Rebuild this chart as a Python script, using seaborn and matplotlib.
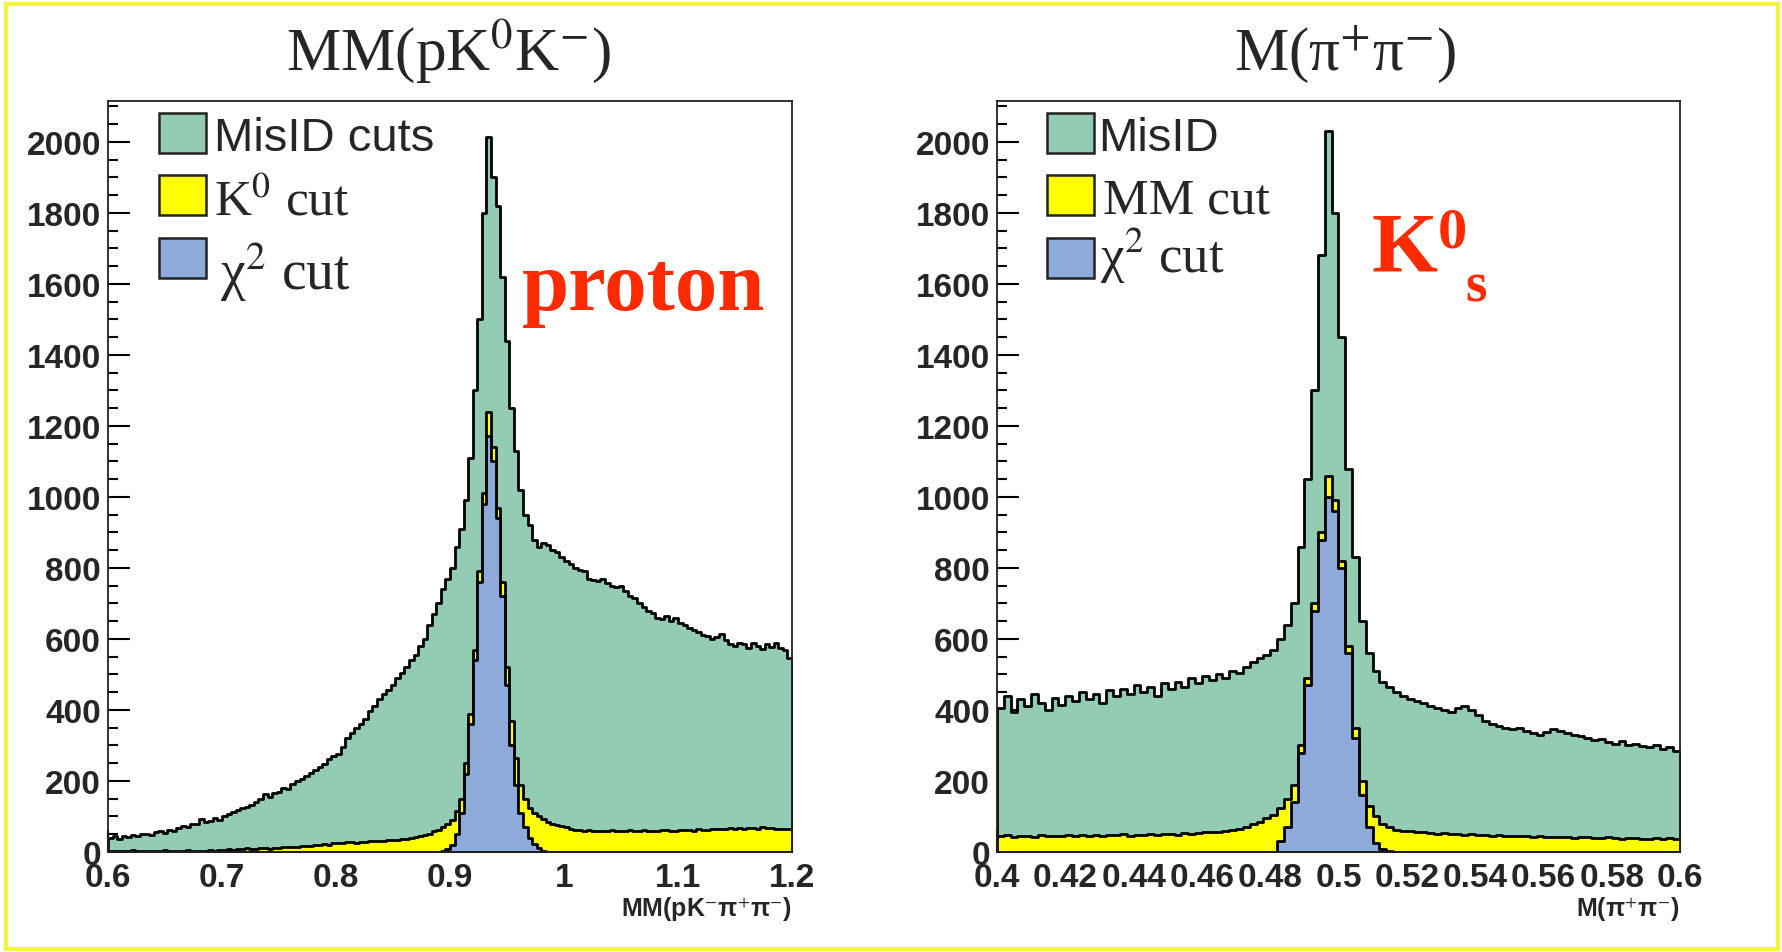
import numpy as np
import pandas as pd
import matplotlib
matplotlib.use("Agg")
import matplotlib.pyplot as plt
import seaborn as sns
from matplotlib.patches import Rectangle
from matplotlib.ticker import MultipleLocator

# ---------------- data ----------------
# Left panel: MM(pK0K-) , bins of 0.004 from 0.6 to 1.2
left_range = (0.6, 1.2)
left_bin_width = 0.004
left_misid = [
    40, 45, 38, 46, 42, 48, 44, 52, 50, 47, 55, 58, 54, 62, 60, 68, 72, 70, 80, 78,
    92, 84, 88, 95, 90, 102, 108, 112, 118, 125, 128, 132, 140, 150, 162, 155, 165, 170, 180, 178,
    192, 200, 205, 215, 222, 230, 240, 248, 262, 270, 275, 295, 320, 335, 350, 360, 375, 398, 410, 430,
    445, 455, 470, 490, 505, 520, 540, 555, 580, 600, 640, 670, 700, 740, 770, 800, 860, 910, 990, 1110,
    1300, 1500, 1800, 2014, 1900, 1820, 1620, 1440, 1250, 1130, 1020, 950, 920, 880, 860, 870, 865, 850, 845, 830,
    820, 810, 800, 795, 790, 770, 765, 762, 768, 758, 750, 745, 748, 735, 720, 715, 700, 690, 680, 672,
    660, 655, 665, 650, 660, 645, 640, 630, 625, 620, 612, 608, 600, 605, 615, 598, 585, 580, 590, 585,
    575, 588, 580, 572, 585, 578, 590, 575, 570, 545,
]
left_k0cut = [
    3, 2, 4, 3, 2, 5, 3, 4, 3, 2, 4, 3, 5, 4, 3, 2, 4, 5, 3, 4,
    4, 3, 5, 4, 6, 6, 8, 7, 9, 8, 10, 9, 8, 10, 11, 9, 12, 11, 13, 14,
    15, 14, 16, 18, 17, 19, 20, 22, 21, 24, 25, 26, 27, 28, 26, 29, 28, 30, 31, 30,
    32, 33, 34, 35, 36, 38, 40, 42, 45, 48, 52, 58, 62, 70, 78, 90, 115, 150, 250, 390,
    570, 790, 1010, 1239, 1140, 970, 760, 520, 370, 265, 190, 150, 125, 110, 100, 92, 85, 80, 76, 72,
    70, 65, 63, 62, 60, 61, 59, 60, 58, 60, 61, 59, 60, 58, 62, 60, 59, 61, 60, 58,
    60, 62, 61, 60, 59, 63, 62, 61, 60, 64, 62, 63, 65, 64, 66, 65, 67, 66, 68, 65,
    67, 68, 66, 69, 67, 68, 66, 65, 64, 66,
]
left_chi2cut = [
    0, 0, 0, 0, 0, 0, 0, 0, 0, 0, 0, 0, 0, 0, 0, 0, 0, 0, 0, 0,
    0, 0, 0, 0, 0, 0, 0, 0, 0, 0, 0, 0, 0, 0, 0, 0, 0, 0, 0, 0,
    0, 0, 0, 0, 0, 0, 0, 0, 0, 0, 0, 0, 0, 0, 0, 0, 0, 0, 0, 0,
    0, 0, 0, 0, 0, 0, 0, 0, 0, 0, 0, 0, 0, 2, 8, 20, 50, 110, 220, 360,
    540, 760, 980, 1172, 1100, 940, 720, 470, 300, 190, 110, 70, 40, 22, 10, 4, 1, 0, 0, 0,
    0, 0, 0, 0, 0, 0, 0, 0, 0, 0, 0, 0, 0, 0, 0, 0, 0, 0, 0, 0,
    0, 0, 0, 0, 0, 0, 0, 0, 0, 0, 0, 0, 0, 0, 0, 0, 0, 0, 0, 0,
    0, 0, 0, 0, 0, 0, 0, 0, 0, 0,
]

# Right panel: M(pi+pi-), bins of 0.002 from 0.4 to 0.6
right_range = (0.4, 0.6)
right_bin_width = 0.002
right_misid = [
    405, 440, 395, 430, 410, 445, 420, 400, 435, 415, 440, 425, 450, 430, 445, 420, 455, 440, 460, 445,
    470, 450, 465, 440, 475, 460, 480, 465, 490, 475, 495, 485, 500, 490, 510, 505, 520, 535, 545, 555,
    570, 600, 640, 700, 860, 1050, 1300, 1680, 2030, 1800, 1450, 1080, 830, 650, 560, 510, 480, 465, 450, 440,
    430, 425, 420, 410, 405, 400, 395, 405, 410, 400, 385, 370, 360, 355, 350, 345, 348, 340, 335, 330,
    338, 345, 340, 335, 330, 328, 322, 315, 318, 310, 305, 312, 300, 305, 298, 295, 300, 290, 295, 285,
]
right_mmcut = [
    44, 48, 42, 46, 45, 43, 47, 44, 46, 45, 48, 44, 47, 46, 49, 45, 48, 47, 50, 46,
    49, 48, 51, 47, 50, 52, 49, 53, 51, 54, 55, 57, 56, 60, 62, 65, 70, 78, 85, 95,
    105, 125, 150, 190, 300, 490, 700, 900, 1059, 990, 820, 580, 350, 200, 130, 100, 80, 70, 63, 60,
    58, 56, 55, 54, 52, 53, 51, 50, 49, 50, 48, 47, 46, 47, 45, 46, 44, 45, 43, 44,
    42, 43, 41, 42, 40, 41, 42, 40, 39, 41, 40, 38, 39, 40, 38, 37, 39, 38, 40, 38,
]
right_chi2cut = [
    0, 0, 0, 0, 0, 0, 0, 0, 0, 0, 0, 0, 0, 0, 0, 0, 0, 0, 0, 0,
    0, 0, 0, 0, 0, 0, 0, 0, 0, 0, 0, 0, 0, 0, 0, 0, 0, 0, 0, 0,
    0, 30, 70, 140, 280, 470, 680, 880, 1000, 960, 800, 560, 320, 160, 70, 25, 8, 2, 0, 0,
    0, 0, 0, 0, 0, 0, 0, 0, 0, 0, 0, 0, 0, 0, 0, 0, 0, 0, 0, 0,
    0, 0, 0, 0, 0, 0, 0, 0, 0, 0, 0, 0, 0, 0, 0, 0, 0, 0, 0, 0,
]

left_xticks = [0.6, 0.7, 0.8, 0.9, 1.0, 1.1, 1.2]
left_xticklabels = ["0.6", "0.7", "0.8", "0.9", "1", "1.1", "1.2"]
right_xticks = [0.40, 0.42, 0.44, 0.46, 0.48, 0.50, 0.52, 0.54, 0.56, 0.58, 0.60]
right_xticklabels = ["0.4", "0.42", "0.44", "0.46", "0.48", "0.5", "0.52", "0.54",
                     "0.56", "0.58", "0.6"]
yticks = [0, 200, 400, 600, 800, 1000, 1200, 1400, 1600, 1800, 2000]
yticklabels = ["0", "200", "400", "600", "800", "1000", "1200", "1400", "1600", "1800", "2000"]

left_title = r"MM(pK$^{0}$K$^{-}$)"
right_title = r"M(π$^{+}$π$^{-}$)"
left_xlabel = r"MM(pK$^{-}$π$^{+}$π$^{-}$)"
right_xlabel = r"M(π$^{+}$π$^{-}$)"
left_legend = ["MisID cuts", r"K$^{0}$ cut", r"χ$^{2}$ cut"]
right_legend = ["MisID", "MM cut", r"χ$^{2}$ cut"]

# ---------------- style ----------------
sns.set_style("ticks")
plt.rcParams["font.family"] = ["Liberation Sans", "DejaVu Sans"]
plt.rcParams["mathtext.fontset"] = "stix"

C_GREEN = "#94cbb3"
C_YELLOW = "#ffff00"
C_BLUE = "#8eaadb"
C_RED = "#ff2a00"
SANS_N = ["Liberation Sans Narrow", "Liberation Sans", "DejaVu Sans"]
SERIF = ["Liberation Serif", "DejaVu Serif"]

W, H = 1783, 953
fig = plt.figure(figsize=(W / 100, H / 100), dpi=100)
fig.patch.set_facecolor("white")


def fx(px):
    return px / W


def fy(py):
    return 1 - py / H


def hist_frame(values, lo, width):
    n = len(values)
    edges = lo + width * np.arange(n + 1)
    centers = edges[:-1] + width / 2
    return [float(e) for e in edges], pd.DataFrame({"x": centers, "w": values})


def panel(ax_px, rng, bw, series, xticks, xticklabels, xminor, xlabel):
    x0, x1, ytop, ybot = ax_px
    ax = fig.add_axes([fx(x0), fy(ybot), fx(x1) - fx(x0), fy(ytop) - fy(ybot)])
    for vals, col, z in series:
        edges, df = hist_frame(vals, rng[0], bw)
        sns.histplot(data=df, x="x", weights="w", bins=edges, element="step",
                     fill=True, color=col, edgecolor="black", linewidth=2.0,
                     alpha=1, ax=ax, zorder=z)
    ax.set_xlim(*rng)
    ax.set_ylim(0, 2115)
    ax.set_xlabel("")
    ax.set_ylabel("")
    ax.set_xticks(xticks, xticklabels)
    ax.set_yticks(yticks, yticklabels)
    ax.xaxis.set_minor_locator(MultipleLocator(xminor))
    ax.yaxis.set_minor_locator(MultipleLocator(50))
    ax.tick_params(axis="both", which="both", direction="in", width=1.5, color="black")
    ax.tick_params(axis="y", which="major", length=16, pad=5)
    ax.tick_params(axis="y", which="minor", length=7)
    ax.tick_params(axis="x", which="major", length=16, pad=7)
    ax.tick_params(axis="x", which="minor", length=8)
    ax.tick_params(top=False, right=False, which="both")
    for lbl in ax.get_xticklabels() + ax.get_yticklabels():
        lbl.set_fontfamily(SANS_N)
        lbl.set_fontweight("bold")
        lbl.set_fontsize(24)
    for sp in ax.spines.values():
        sp.set_visible(True)
        sp.set_linewidth(1.3)
        sp.set_color("#222222")
        sp.set_zorder(5)
    ax.text(1.0, -(910 - ybot) / (ybot - ytop), xlabel, transform=ax.transAxes,
            ha="right", va="center", fontsize=18, fontweight="bold", family=SANS_N)
    return ax


axL = panel((108, 792, 102, 853), left_range, left_bin_width,
            [(left_misid, C_GREEN, 1), (left_k0cut, C_YELLOW, 2), (left_chi2cut, C_BLUE, 3)],
            left_xticks, left_xticklabels, 0.02, left_xlabel)
axR = panel((997, 1680, 102, 853), right_range, right_bin_width,
            [(right_misid, C_GREEN, 1), (right_mmcut, C_YELLOW, 2), (right_chi2cut, C_BLUE, 3)],
            right_xticks, right_xticklabels, 0.004, right_xlabel)

# titles
fig.text(fx(449), fy(70), left_title, ha="center", va="baseline", fontsize=44, family=SERIF)
fig.text(fx(1345), fy(70), right_title, ha="center", va="baseline", fontsize=44, family=SERIF)

# legends (drawn as boxes + labels)
colors = [C_GREEN, C_YELLOW, C_BLUE]
box_tops = [114, 176, 239]
for bx, labels, txs, bases, chi_fs in [
    (159, left_legend, [214, 214, 220], [151, 216, 290], 40),
    (1047, right_legend, [1098, 1103, 1100], [151, 213, 273], 38),
]:
    for i in range(3):
        fig.patches.append(Rectangle((fx(bx), fy(box_tops[i] + 40)), fx(47), 40 / H,
                                     transform=fig.transFigure, facecolor=colors[i],
                                     edgecolor="#222222", linewidth=1.8, zorder=10))
        if i == 0:
            fig.text(fx(txs[i]), fy(bases[i]), labels[i], ha="left", va="baseline",
                     fontsize=34, family=["Liberation Sans", "DejaVu Sans"], zorder=11)
        else:
            fig.text(fx(txs[i]), fy(bases[i]), labels[i], ha="left", va="baseline",
                     fontsize=37 if i == 1 else chi_fs, family=SERIF, zorder=11)

# red annotations
fig.text(fx(522), fy(310), "proton", ha="left", va="baseline", fontsize=61,
         fontweight="bold", family=SERIF, color=C_RED)
fig.text(fx(1372), fy(272), "K", ha="left", va="baseline", fontsize=61,
         fontweight="bold", family=SERIF, color=C_RED)
fig.text(fx(1438), fy(247), "0", ha="left", va="baseline", fontsize=42,
         fontweight="bold", family=SERIF, color=C_RED)
fig.text(fx(1465), fy(302), "s", ha="left", va="baseline", fontsize=40,
         fontweight="bold", family=SERIF, color=C_RED)

# yellow slide frame
fig.patches.append(Rectangle((fx(6), fy(950)), fx(1772), 945 / H, transform=fig.transFigure,
                             fill=False, edgecolor="#f4f43c", linewidth=3, zorder=0))

fig.savefig("out.png", dpi=100, facecolor="white")
